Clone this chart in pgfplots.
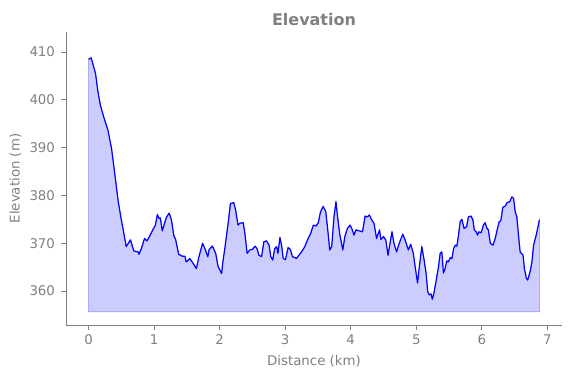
\documentclass[border=0pt]{standalone}
\usepackage{pgfplots}
\pgfplotsset{compat=1.18}
\usepackage{pgfplotstable}
\usepackage{fontspec}
\setmainfont{DejaVu Sans}
\definecolor{txtgray}{RGB}{128,128,128}
\definecolor{fillblue}{RGB}{204,204,255}
\definecolor{edgeblue}{RGB}{170,170,255}
\pgfplotstableread{
x y
0.00 408.5
0.04 408.8
0.107 405.5
0.14 402.0
0.18 398.9
0.23 396.5
0.295 393.7
0.35 389.9
0.40 384.6
0.45 379.0
0.50 374.9
0.525 373.1
0.575 369.3
0.64 370.7
0.69 368.4
0.755 368.2
0.77 367.7
0.805 368.9
0.855 371.0
0.89 370.5
0.93 371.4
0.98 372.8
1.02 373.8
1.05 376.0
1.075 375.2
1.095 375.3
1.125 372.6
1.16 374.2
1.19 375.5
1.23 376.3
1.265 374.9
1.30 371.7
1.33 370.7
1.375 367.7
1.43 367.3
1.47 367.3
1.49 366.1
1.545 366.8
1.595 365.8
1.645 364.7
1.685 367.2
1.74 370.0
1.78 368.7
1.82 367.2
1.84 368.7
1.89 369.4
1.94 367.9
1.975 365.2
2.03 363.7
2.05 366.1
2.09 370.0
2.13 374.2
2.165 378.3
2.215 378.5
2.245 376.9
2.28 373.8
2.31 374.2
2.36 374.3
2.385 372.1
2.42 367.9
2.46 368.6
2.50 368.7
2.54 369.4
2.57 368.9
2.60 367.5
2.64 367.2
2.675 370.3
2.715 370.5
2.755 369.6
2.78 367.2
2.81 366.5
2.84 368.9
2.87 369.3
2.89 367.9
2.92 371.2
2.945 369.6
2.97 366.8
3.005 366.6
3.045 369.1
3.08 368.7
3.11 367.2
3.15 367.0
3.17 366.8
3.21 367.5
3.25 368.2
3.30 369.3
3.35 371.0
3.39 372.1
3.43 373.8
3.47 373.6
3.505 374.3
3.54 376.6
3.58 377.7
3.62 376.6
3.65 372.8
3.68 368.6
3.71 369.3
3.745 375.5
3.775 378.7
3.80 375.5
3.835 371.7
3.88 368.6
3.91 371.4
3.95 373.1
3.99 373.8
4.025 372.8
4.05 371.7
4.08 372.8
4.13 372.6
4.18 372.4
4.22 375.7
4.25 375.5
4.285 375.9
4.32 374.9
4.355 374.2
4.395 371.0
4.44 372.8
4.46 370.8
4.50 371.4
4.535 370.7
4.57 367.5
4.60 370.0
4.63 372.4
4.66 370.0
4.70 368.2
4.74 370.0
4.795 371.9
4.83 370.7
4.88 368.6
4.915 369.8
4.955 367.9
4.98 365.4
5.02 361.7
5.05 365.4
5.085 369.3
5.12 366.5
5.15 363.7
5.175 359.9
5.20 359.2
5.225 359.4
5.245 358.3
5.27 359.6
5.30 361.9
5.34 365.1
5.365 367.9
5.39 368.2
5.415 363.8
5.44 364.7
5.465 366.3
5.49 366.1
5.52 367.0
5.545 366.8
5.57 368.9
5.595 369.6
5.62 369.4
5.645 371.7
5.67 374.5
5.695 375.0
5.73 373.1
5.77 373.5
5.795 375.5
5.835 375.7
5.865 374.9
5.885 372.8
5.915 372.4
5.935 371.7
5.955 372.4
5.99 372.2
6.025 373.8
6.05 374.3
6.08 373.1
6.10 372.8
6.13 370.0
6.17 369.6
6.205 371.0
6.24 373.1
6.265 374.5
6.29 374.7
6.32 377.5
6.36 377.8
6.385 378.5
6.425 378.7
6.46 379.7
6.485 379.4
6.51 376.6
6.535 375.5
6.56 371.7
6.585 368.2
6.63 367.5
6.65 364.7
6.68 362.7
6.70 362.3
6.74 364.2
6.765 366.1
6.79 369.6
6.83 371.7
6.88 374.9
}\elev
\begin{document}
\begin{tikzpicture}
\begin{axis}[
  scale only axis,
  width=372pt, height=219.75pt,
  xmin=-0.344, xmax=7.224,
  ymin=352.9, ymax=414.2,
  axis x line*=bottom, axis y line*=left,
  axis line style={txtgray, line width=0.6pt, -},
  xtick={0,1,...,7}, ytick={360,370,...,410},
  tick style={txtgray, line width=0.6pt},
  tick align=outside, major tick length=3.75pt,
  tick label style={font=\fontsize{10}{12}\selectfont, text=txtgray},
  xticklabel style={anchor=base, yshift=-10.5pt},
  yticklabel style={xshift=-1pt},
  /pgf/number format/assume math mode=true,
  xlabel={Distance (km)}, ylabel={Elevation (m)},
  label style={font=\fontsize{10}{12}\selectfont, text=txtgray},
  xlabel style={at={(axis description cs:0.5,0)}, anchor=base, yshift=-30pt},
  ylabel style={at={(axis description cs:-0.1019,0.5)}, anchor=center},
  title={\bfseries Elevation},
  title style={font=\fontsize{12}{14}\selectfont, text=txtgray, at={(axis description cs:0.5,1)}, anchor=base, yshift=-0.75pt},
  clip=false,
]
\addplot[fill=fillblue, draw=edgeblue, line width=0.6pt] coordinates {
(0.00,355.7) (0.00,408.5)
(0.04,408.8) (0.107,405.5) (0.14,402.0) (0.18,398.9) (0.23,396.5) (0.295,393.7) (0.35,389.9) (0.40,384.6) (0.45,379.0) (0.50,374.9) (0.525,373.1) (0.575,369.3) (0.64,370.7) (0.69,368.4) (0.755,368.2) (0.77,367.7) (0.805,368.9) (0.855,371.0) (0.89,370.5) (0.93,371.4) (0.98,372.8) (1.02,373.8) (1.05,376.0) (1.075,375.2) (1.095,375.3) (1.125,372.6) (1.16,374.2) (1.19,375.5) (1.23,376.3) (1.265,374.9) (1.30,371.7) (1.33,370.7) (1.375,367.7) (1.43,367.3) (1.47,367.3) (1.49,366.1) (1.545,366.8) (1.595,365.8) (1.645,364.7) (1.685,367.2) (1.74,370.0) (1.78,368.7) (1.82,367.2) (1.84,368.7) (1.89,369.4) (1.94,367.9) (1.975,365.2) (2.03,363.7) (2.05,366.1) (2.09,370.0) (2.13,374.2) (2.165,378.3) (2.215,378.5) (2.245,376.9) (2.28,373.8) (2.31,374.2) (2.36,374.3) (2.385,372.1) (2.42,367.9) (2.46,368.6) (2.50,368.7) (2.54,369.4) (2.57,368.9) (2.60,367.5) (2.64,367.2) (2.675,370.3) (2.715,370.5) (2.755,369.6) (2.78,367.2) (2.81,366.5) (2.84,368.9) (2.87,369.3) (2.89,367.9) (2.92,371.2) (2.945,369.6) (2.97,366.8) (3.005,366.6) (3.045,369.1) (3.08,368.7) (3.11,367.2) (3.15,367.0) (3.17,366.8) (3.21,367.5) (3.25,368.2) (3.30,369.3) (3.35,371.0) (3.39,372.1) (3.43,373.8) (3.47,373.6) (3.505,374.3) (3.54,376.6) (3.58,377.7) (3.62,376.6) (3.65,372.8) (3.68,368.6) (3.71,369.3) (3.745,375.5) (3.775,378.7) (3.80,375.5) (3.835,371.7) (3.88,368.6) (3.91,371.4) (3.95,373.1) (3.99,373.8) (4.025,372.8) (4.05,371.7) (4.08,372.8) (4.13,372.6) (4.18,372.4) (4.22,375.7) (4.25,375.5) (4.285,375.9) (4.32,374.9) (4.355,374.2) (4.395,371.0) (4.44,372.8) (4.46,370.8) (4.50,371.4) (4.535,370.7) (4.57,367.5) (4.60,370.0) (4.63,372.4) (4.66,370.0) (4.70,368.2) (4.74,370.0) (4.795,371.9) (4.83,370.7) (4.88,368.6) (4.915,369.8) (4.955,367.9) (4.98,365.4) (5.02,361.7) (5.05,365.4) (5.085,369.3) (5.12,366.5) (5.15,363.7) (5.175,359.9) (5.20,359.2) (5.225,359.4) (5.245,358.3) (5.27,359.6) (5.30,361.9) (5.34,365.1) (5.365,367.9) (5.39,368.2) (5.415,363.8) (5.44,364.7) (5.465,366.3) (5.49,366.1) (5.52,367.0) (5.545,366.8) (5.57,368.9) (5.595,369.6) (5.62,369.4) (5.645,371.7) (5.67,374.5) (5.695,375.0) (5.73,373.1) (5.77,373.5) (5.795,375.5) (5.835,375.7) (5.865,374.9) (5.885,372.8) (5.915,372.4) (5.935,371.7) (5.955,372.4) (5.99,372.2) (6.025,373.8) (6.05,374.3) (6.08,373.1) (6.10,372.8) (6.13,370.0) (6.17,369.6) (6.205,371.0) (6.24,373.1) (6.265,374.5) (6.29,374.7) (6.32,377.5) (6.36,377.8) (6.385,378.5) (6.425,378.7) (6.46,379.7) (6.485,379.4) (6.51,376.6) (6.535,375.5) (6.56,371.7) (6.585,368.2) (6.63,367.5) (6.65,364.7) (6.68,362.7) (6.70,362.3) (6.74,364.2) (6.765,366.1) (6.79,369.6) (6.83,371.7) (6.88,374.9)
(6.88,355.7)} -- cycle;
\addplot[blue, line width=0.9pt, line join=round] table[x=x,y=y] {\elev};
\coordinate (ll) at (rel axis cs:0,0);
\coordinate (ur) at (rel axis cs:1,1);
\end{axis}
\pgfresetboundingbox
\path ([xshift=-49.5pt,yshift=-39.75pt]ll) rectangle ([xshift=6.75pt,yshift=24pt]ur);
\end{tikzpicture}
\end{document}
